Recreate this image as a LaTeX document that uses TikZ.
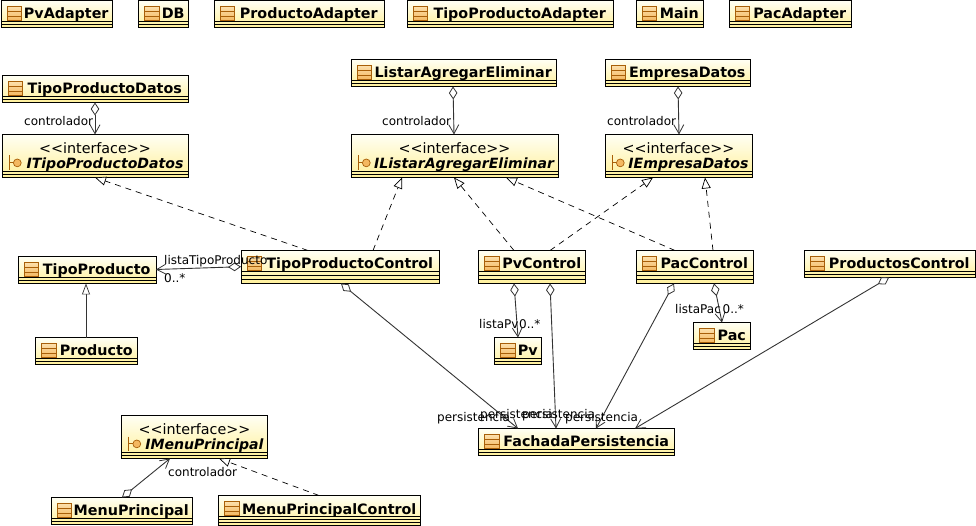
\documentclass[tikz,border=0pt]{standalone}
\usepackage{fontspec}
\setmainfont{DejaVu Sans}
\usetikzlibrary{arrows.meta}
\definecolor{umltop}{HTML}{FFFFF4}
\definecolor{umlbot}{HTML}{FFF09A}
\definecolor{umlicon}{HTML}{F4B860}
\definecolor{umlicontop}{HTML}{FCE0AC}
\definecolor{umledge}{HTML}{A85F08}
\definecolor{umlline}{HTML}{333333}
\newcommand{\umlbands}[2]{\foreach \k in {1,...,#1}
  \draw[black,line width=0.9pt] ([yshift=\k*#2pt]path picture bounding box.south west)--([yshift=\k*#2pt]path picture bounding box.south east);}
\newcommand{\umlclassicon}{
  \draw[umledge,top color=umlicontop,bottom color=umlicon,line width=0.9pt] ([shift={(6pt,-6pt)}]path picture bounding box.north west) rectangle ++(14.5pt,-14pt);
  \draw[umledge,line width=0.6pt] ([shift={(6pt,-10.7pt)}]path picture bounding box.north west)--++(14.5pt,0pt);
  \draw[umledge,line width=0.6pt] ([shift={(6pt,-15.4pt)}]path picture bounding box.north west)--++(14.5pt,0pt);}
\newcommand{\umlifaceicon}{
  \draw[umledge,line width=0.9pt] ([shift={(7.3pt,-21pt)}]path picture bounding box.north west)--++(0pt,-14.5pt);
  \draw[umledge,line width=0.9pt] ([shift={(7.3pt,-28.4pt)}]path picture bounding box.north west)--++(4pt,0pt);
  \draw[umledge,fill=umlicon,line width=0.7pt] ([shift={(15.3pt,-28.4pt)}]path picture bounding box.north west) circle (3.9pt);}
\newcommand{\umlname}[1]{\hspace*{19.5pt}\textbf{#1}}
\newcommand{\umlifname}[1]{\hspace*{20pt}{\fontsize{14.1}{16}\selectfont\textbf{\itshape #1}}}
\newcommand{\umlstereo}{<{}<interface>{}>}
\tikzset{
  umlbase/.style={draw=black,line width=1pt,anchor=north west,inner sep=0pt,outer sep=0pt,top color=umltop,bottom color=umlbot,font=\fontsize{14.3}{16}\selectfont},
  umlclass/.style={umlbase,text height=18pt,text depth=9pt,path picture={\umlbands{2}{3}\umlclassicon}},
  umlcontrol/.style={umlbase,text height=18.5pt,text depth=14.5pt,path picture={\umlbands{3}{3.9}\umlclassicon}},
  umlcontrolb/.style={umlbase,text height=18.5pt,text depth=11.5pt,path picture={\umlbands{3}{3}\umlclassicon}},
  umliface/.style={umlbase,align=center,text height=34.2pt,text depth=8.8pt,path picture={\umlbands{2}{3}\umlifaceicon}},
  umllabel/.style={anchor=base west,inner sep=0pt,font=\fontsize{12}{14}\selectfont},
  umlhas/.style={umlline,line width=0.9pt,{Diamond[fill=white,length=13pt,width=8.5pt,line width=0.8pt]}-{Straight Barb[length=9pt,width=10pt,line width=0.8pt]}},
  umlreal/.style={black,line width=0.7pt,dash pattern=on 6pt off 5pt,-{Triangle[fill=white,length=11pt,width=9pt,line width=0.7pt]}},
  umlsub/.style={umlline,line width=0.9pt,-{Triangle[fill=white,length=11pt,width=8pt,line width=0.7pt]}},
}
\begin{document}
\begin{tikzpicture}[x=1pt,y=-1pt]
\useasboundingbox (0,0) rectangle (976,526);
% top row
\node[umlclass,minimum width=111pt] (pvadapter) at (1,0.5) {\umlname{PvAdapter}};
\node[umlclass,minimum width=50pt] (db) at (138.5,0.5) {\umlname{DB}};
\node[umlclass,minimum width=170pt] (productoadapter) at (214,0.5) {\umlname{ProductoAdapter}};
\node[umlclass,minimum width=206pt] (tipoproductoadapter) at (407,0.5) {\umlname{TipoProductoAdapter}};
\node[umlclass,minimum width=67pt] (main) at (636,0.5) {\umlname{Main}};
\node[umlclass,minimum width=122pt] (pacadapter) at (729,0.5) {\umlname{PacAdapter}};
% datos
\node[umlclass,minimum width=186pt] (tipodatos) at (2,75.5) {\umlname{TipoProductoDatos}};
\node[umliface,minimum width=186pt] (itipodatos) at (2,134.5) {\umlstereo\\[-0.5pt]\umlifname{ITipoProductoDatos}};
\node[umlclass,minimum width=205pt] (listar) at (351,59.5) {\umlname{ListarAgregarEliminar}};
\node[umliface,minimum width=207pt] (ilistar) at (351,134.5) {\umlstereo\\[-0.5pt]\umlifname{IListarAgregarEliminar}};
\node[umlclass,minimum width=145pt] (empresa) at (605,59.5) {\umlname{EmpresaDatos}};
\node[umliface,minimum width=147pt] (iempresa) at (605,134.5) {\umlstereo\\[-0.5pt]\umlifname{IEmpresaDatos}};
% control
\node[umlclass,minimum width=138pt] (tipoproducto) at (18,256.5) {\umlname{TipoProducto}};
\node[umlclass,minimum width=102pt] (producto) at (35.5,337.5) {\umlname{Producto}};
\node[umlcontrol,minimum width=198pt] (tipocontrol) at (241,250.5) {\umlname{TipoProductoControl}};
\node[umlcontrol,minimum width=107pt] (pvcontrol) at (478.5,250.5) {\umlname{PvControl}};
\node[umlcontrol,minimum width=117pt] (paccontrol) at (636,250.5) {\umlname{PacControl}};
\node[umlclass,minimum width=171pt] (productoscontrol) at (804,250.5) {\umlname{ProductosControl}};
\node[umlclass,minimum width=47pt] (pv) at (494.5,337.5) {\umlname{Pv}};
\node[umlclass,minimum width=57pt] (pac) at (693.5,322.5) {\umlname{Pac}};
\node[umlclass,minimum width=196pt] (fachada) at (478.5,428.5) {\umlname{FachadaPersistencia}};
% menu
\node[umliface,minimum width=146pt] (imenu) at (121.5,415.5) {\umlstereo\\[-0.5pt]\umlifname{IMenuPrincipal}};
\node[umlclass,minimum width=141pt] (menu) at (51,497.5) {\umlname{MenuPrincipal}};
\node[umlcontrolb,minimum width=202pt] (menucontrol) at (218.5,495.5) {\umlname{MenuPrincipalControl}};
% links
\draw[umlhas] (tipodatos.south -| 95,0)--(itipodatos.north -| 95,0);
\draw[umlhas] (listar.south -| 453,0)--(ilistar.north -| 454,0);
\draw[umlhas] (empresa.south -| 678,0)--(iempresa.north -| 679,0);
\draw[umlreal] (tipocontrol.north -| 308,0)--(itipodatos.south -| 95,0);
\draw[umlreal] (tipocontrol.north -| 373,0)--(ilistar.south -| 402,0);
\draw[umlreal] (pvcontrol.north -| 514,0)--(ilistar.south -| 454,0);
\draw[umlreal] (pvcontrol.north -| 550,0)--(iempresa.south -| 653,0);
\draw[umlreal] (paccontrol.north -| 675,0)--(ilistar.south -| 506,0);
\draw[umlreal] (paccontrol.north -| 713,0)--(iempresa.south -| 705,0);
\draw[umlhas] (tipocontrol.west |- 0,266.7)--(tipoproducto.east |- 0,269.5);
\draw[umlsub] (producto.north -| 86,0)--(tipoproducto.south -| 86,0);
\draw[umlhas] (tipocontrol.south -| 341,0)--(fachada.north -| 518,0);
\draw[umlhas] (pvcontrol.south -| 514,0)--(pv.north -| 518,0);
\draw[umlhas] (pvcontrol.south -| 550,0)--(fachada.north -| 556,0);
\draw[umlhas] (paccontrol.south -| 674,0)--(fachada.north -| 596,0);
\draw[umlhas] (paccontrol.south -| 714,0)--(pac.north -| 722,0);
\draw[umlhas] (productoscontrol.south -| 889,0)--(fachada.north -| 635,0);
\draw[umlhas] (menu.north -| 122,0)--(imenu.south -| 170,0);
\draw[umlreal] (menucontrol.north -| 319,0)--(imenu.south -| 219,0);
% labels
\node[umllabel] (labtipodatos) at (24,125.5) {controlador};
\node[umllabel] (lablistar) at (382,125.5) {controlador};
\node[umllabel] (labempresa) at (607,125.5) {controlador};
\node[umllabel] (labmenu) at (168,476) {controlador};
\node[umllabel] (lablistatipo) at (164,265) {listaTipoProducto};
\node[umllabel] (labtipomult) at (164,283) {0..*};
\node[umllabel] (lablistapv) at (479,328) {listaPv};
\node[umllabel] (labpvmult) at (519,328) {0..*};
\node[umllabel] (lablistapac) at (675,313) {listaPac};
\node[umllabel] (labpacmult) at (722.5,313) {0..*};
\node[umllabel] (labpersa) at (437,421.5) {persistencia};
\node[umllabel] (labpersb) at (480,418) {persistencia};
\node[umllabel] (labpersc) at (522,418) {persistencia};
\node[umllabel] (labpersd) at (565,421.5) {persistencia};
\end{tikzpicture}
\end{document}
